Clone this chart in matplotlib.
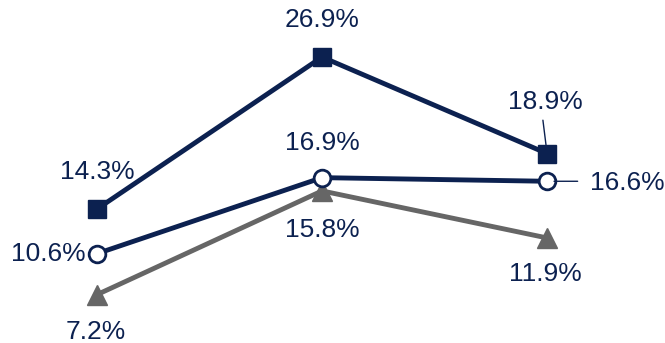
import matplotlib
matplotlib.use("Agg")
from matplotlib import pyplot as plt

plt.rcParams["font.family"] = ["Liberation Sans", "DejaVu Sans"]

navy = "#0c2150"
grey = "#666666"

x = [0, 1, 2]
top_y = [14.3, 26.9, 18.9]
mid_y = [10.6, 16.9, 16.6]
low_y = [7.2, 15.8, 11.9]

# label offsets in points (dx, dy, ha, va)
top_off = [(0, 27, "center", "center"), (0, 27, "center", "center"), (-1, 37, "center", "center")]
mid_off = [(-8, 0, "right", "center"), (0, 25, "center", "center"), (31, -1, "left", "center")]
low_off = [(-1, -27, "center", "center"), (0, -28, "center", "center"), (-1, -26, "center", "center")]

fig = plt.figure(figsize=(6.65, 3.43), dpi=100)
ax = fig.add_axes([0, 0, 1, 1])

ax.plot(x, low_y, color=grey, lw=3.5, marker="^", ms=14, mfc=grey, mec=grey, zorder=2)
ax.plot(x, mid_y, color=navy, lw=3.5, marker="o", ms=12, mfc="white", mec=navy, mew=2, zorder=3)
ax.plot(x, top_y, color=navy, lw=3.5, marker="s", ms=13, mfc=navy, mec=navy, zorder=4)

for ys, offs in [(top_y, top_off), (mid_y, mid_off), (low_y, low_off)]:
    for xi, yi, (dx, dy, ha, va) in zip(x, ys, offs):
        ax.annotate(f"{yi:.1f}%", (xi, yi), xytext=(dx, dy), textcoords="offset points",
                    ha=ha, va=va, fontsize=19, color=navy)

# leader lines
ax.annotate("", (x[2], top_y[2]), xytext=(-3, 24), textcoords="offset points",
            arrowprops=dict(arrowstyle="-", color=navy, lw=1, shrinkA=0, shrinkB=5))
ax.annotate("", (x[2], mid_y[2]), xytext=(22, 0), textcoords="offset points",
            arrowprops=dict(arrowstyle="-", color=navy, lw=1, shrinkA=0, shrinkB=5))

ax.set_xlim(-0.431, 2.524)
ax.set_ylim(3.19, 31.63)
ax.axis("off")

fig.savefig("out.png", dpi=100)
